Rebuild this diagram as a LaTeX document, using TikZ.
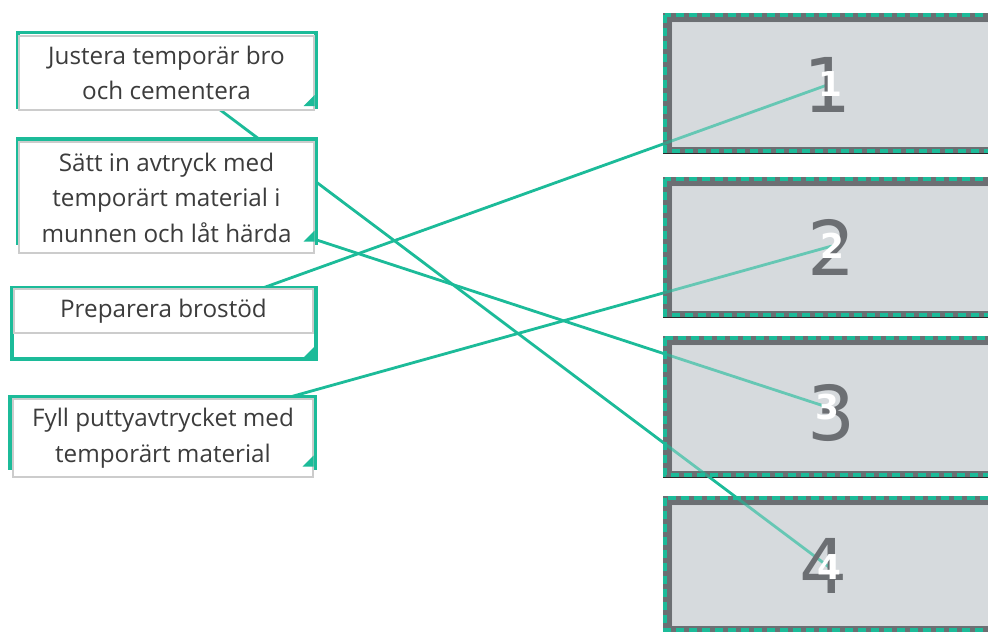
\documentclass[tikz,border=0pt]{standalone}
\usepackage{fontspec}
\setmainfont{Open Sans}
\newfontfamily\numfont{DejaVu Sans}
\definecolor{linkgreen}{RGB}{28,187,153}
\definecolor{slotfill}{RGB}{214,218,221}
\definecolor{slotedge}{RGB}{108,111,115}
\definecolor{cardtext}{RGB}{60,60,60}
\pgfdeclarelayer{back}
\pgfdeclarelayer{links}
\pgfsetlayers{back,links,main}
\begin{document}
\begin{tikzpicture}[x=0.02cm, y=-0.02cm,
    holder/.style 2 args={draw=linkgreen, line width=0.07cm, minimum width=#1*0.02cm, minimum height=#2*0.02cm, inner sep=0pt, outer sep=0pt},
    card/.style 2 args={fill=white, draw=black!20, line width=0.6pt, minimum width=#1*0.02cm, minimum height=#2*0.02cm, inner sep=0pt, align=center, text=cardtext, font=\fontsize{13.8}{20.2}\selectfont},
    link/.style={linkgreen, line width=1.6pt},
    bignum/.style={text=slotedge, inner sep=0pt, font=\numfont\fontsize{43}{43}\selectfont},
    whitenum/.style={text=white, inner sep=0pt, font=\numfont\bfseries\fontsize{19.5}{19.5}\selectfont}]
  \useasboundingbox (0,0) rectangle (988,632);
  \clip (0,0) rectangle (988,632);
  \begin{pgfonlayer}{back}
    \node[holder={298}{75}] (j) at (167,70) {};
    \node[holder={298}{104}] (s) at (167,191) {};
    \node[holder={304}{71}] (p) at (164,323.5) {};
    \node[holder={305}{71}] (f) at (162.5,432.5) {};
    \foreach \y/\h in {13/140, 177/140, 336/141, 496/136} {
      \fill[slotedge] (663,\y) rectangle (1000,\y+\h);
      \fill[slotfill] (672,\y+9) rectangle (1000,\y+\h-6);
    }
    \foreach \y in {153.5, 317.5, 477.5}
      \draw[black!85, line width=0.03cm] (663,\y) -- (1000,\y);
  \end{pgfonlayer}
  \node[card={295}{74}] (jt) at (166.5,73) {Justera temporär bro\\och cementera};
  \node[card={295}{111}] (st) at (166.5,197.5) {Sätt in avtryck med\\temporärt material i\\munnen och låt härda};
  \node[card={299}{44}] (pt) at (163.5,311) {Preparera brostöd};
  \node[card={300}{78}] (ft) at (163,438) {Fyll puttyavtrycket med\\temporärt material};
  \foreach \n in {j,s,p,f}
    \fill[linkgreen] (\n.south east) ++(-1.5,-1.5) -- ++(-11,0) -- ++(11,-11) -- cycle;
  \foreach \y/\h in {13/140, 177/140, 336/141, 496/136} {
    \fill[slotedge, fill opacity=0.4, even odd rule] (663,\y) rectangle (1000,\y+\h) (672,\y+9) rectangle (1000,\y+\h-6);
    \fill[slotfill, fill opacity=0.4] (672,\y+9) rectangle (1000,\y+\h-6);
    \draw[linkgreen, line width=0.065cm, dash pattern=on 0.16cm off 0.1cm] (665,\y+2) rectangle (1000,\y+\h-2);
  }
  \node[bignum] (b1) at (828,85) {1};
  \node[bignum] (b2) at (832,247) {2};
  \node[bignum] (b3) at (832,413) {3};
  \node[bignum] (b4) at (824,566) {4};
  \node[whitenum] (w1) at (830,84) {1};
  \node[whitenum] (w2) at (832,246) {2};
  \node[whitenum] (w3) at (827,407) {3};
  \node[whitenum] (w4) at (829,567) {4};
  \begin{pgfonlayer}{links}
    \draw[link] (j.center) -- (w4.center);
    \draw[link] (s.center) -- (w3.center);
    \draw[link] (p.center) -- (w1.center);
    \draw[link] (f.center) -- (w2.center);
  \end{pgfonlayer}
\end{tikzpicture}
\end{document}
